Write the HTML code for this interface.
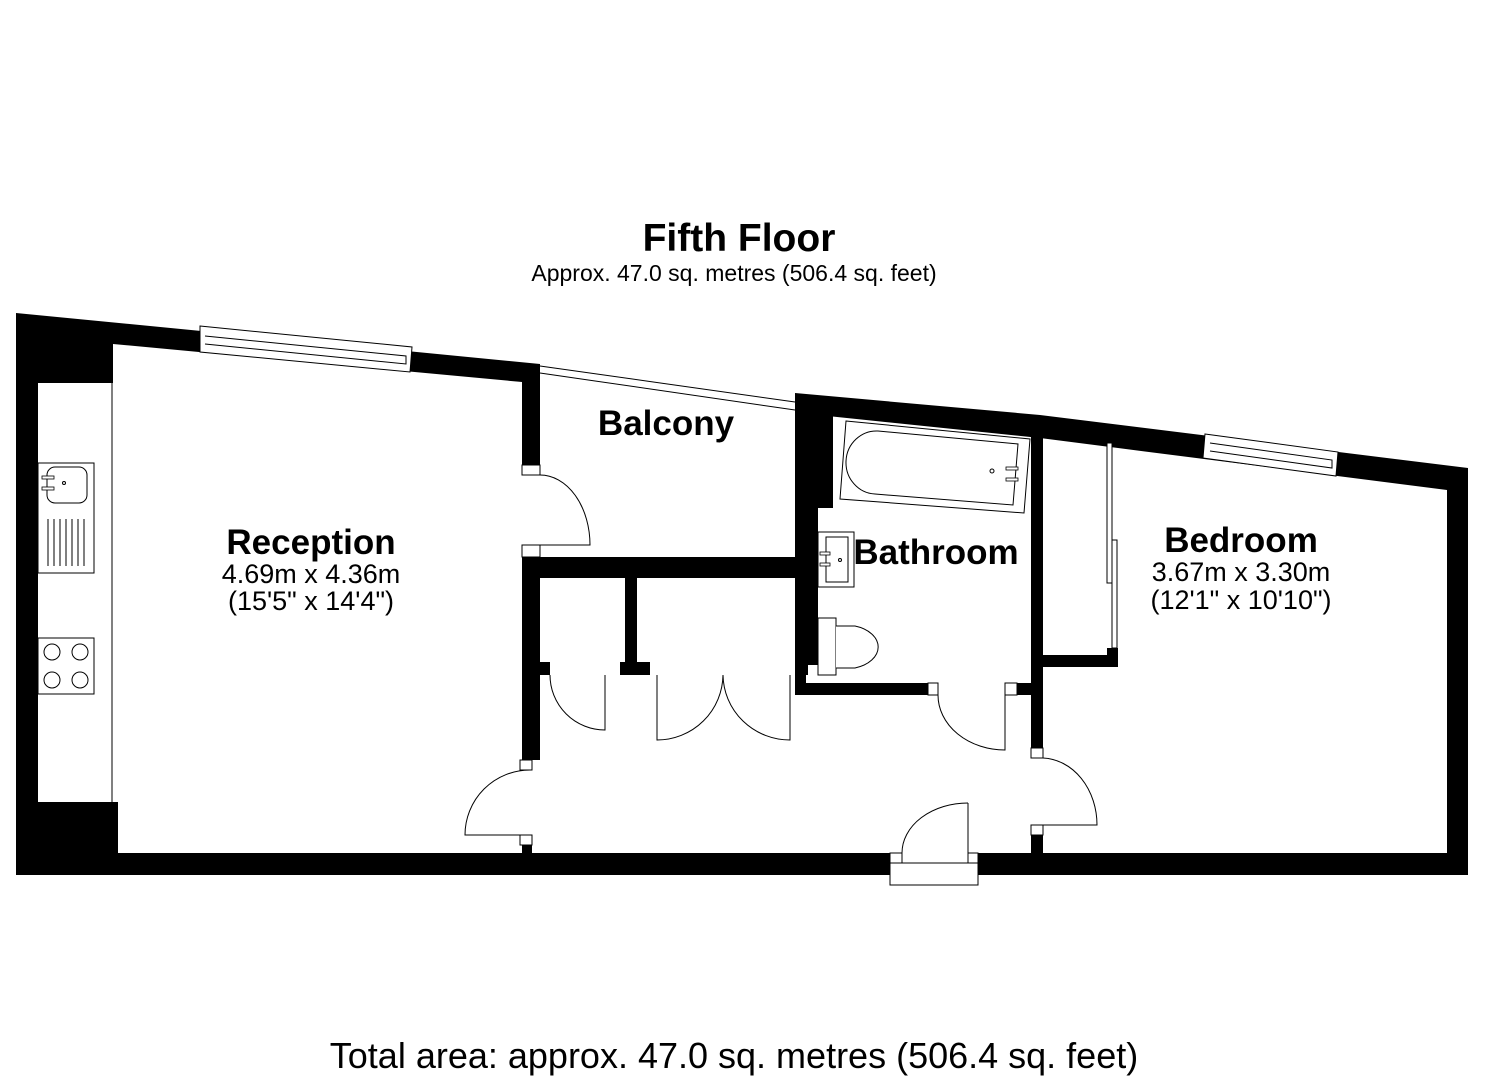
<!DOCTYPE html>
<html><head><meta charset="utf-8"><style>
html,body{margin:0;padding:0;background:#fff}
svg{display:block}
text{font-family:"Liberation Sans",Arial,sans-serif;fill:#000}
.b{font-weight:bold}
.t{fill:none;stroke:#000;stroke-width:1}
.w{fill:#fff;stroke:#000;stroke-width:1}
</style></head><body>
<svg width="1485" height="1080" viewBox="0 0 1485 1080" xmlns="http://www.w3.org/2000/svg">
<rect width="1485" height="1080" fill="#fff"/>
<text x="739" y="251" text-anchor="middle" class="b" font-size="39">Fifth Floor</text>
<text x="734" y="281" text-anchor="middle" font-size="23">Approx. 47.0 sq. metres (506.4 sq. feet)</text>
<text x="734" y="1068" text-anchor="middle" font-size="36">Total area: approx. 47.0 sq. metres (506.4 sq. feet)</text>

<polygon points="16,313 540,364 540,465 522,465 522,382 113,344 113,383 38,383 38,802 118,802 118,853 16,853" fill="#000"/>
<rect x="16" y="853" width="874" height="22" fill="#000"/>
<rect x="978" y="853" width="490" height="22" fill="#000"/>
<polygon points="795,393 1040,415 1468,468 1468,875 1447,875 1447,490 1118,448 1040,438 818,415 818,665 806,665 806,695 795,695" fill="#000"/>
<rect x="818" y="415" width="15" height="93" fill="#000"/>
<rect x="1031" y="430" width="12" height="318" fill="#000"/>
<rect x="1031" y="835" width="12" height="20" fill="#000"/>
<rect class="w" x="1031" y="748" width="12" height="10"/>
<rect class="w" x="1031" y="825" width="12" height="10"/>
<rect x="1043" y="655" width="75" height="12" fill="#000"/>
<rect x="1107" y="648" width="11" height="19" fill="#000"/>
<rect class="w" x="1107" y="443" width="5" height="140"/>
<rect class="w" x="1112" y="540" width="5" height="108"/>
<rect x="806" y="683" width="122" height="12" fill="#000"/>
<rect class="w" x="928" y="683" width="10" height="12"/>
<rect class="w" x="1005" y="683" width="12" height="12"/>
<rect x="1017" y="683" width="14" height="12" fill="#000"/>
<rect x="522" y="557" width="296" height="21" fill="#000"/>
<rect x="522" y="557" width="18" height="203" fill="#000"/>
<rect x="522" y="845" width="10" height="8" fill="#000"/>
<rect class="w" x="520" y="760" width="12" height="10"/>
<rect class="w" x="520" y="835" width="12" height="10"/>
<rect x="540" y="662" width="10" height="13" fill="#000"/>
<rect x="625" y="578" width="12" height="87" fill="#000"/>
<rect x="620" y="662" width="30" height="13" fill="#000"/>
<rect x="795" y="662" width="13" height="13" fill="#000"/>
<rect class="w" x="522" y="465" width="18" height="10"/>
<rect class="w" x="522" y="545" width="18" height="12"/>
<polygon class="w" points="200,326 412,347 410,372 200,352"/>
<polyline class="t" points="205,336 406,356 406,364 205,344"/>
<polygon class="w" points="1205,434 1338,452 1336,476 1203,458"/>
<polyline class="t" points="1210,443 1332,460 1332,468 1210,451"/>
<line class="t" x1="540" y1="366" x2="795" y2="402"/>
<line class="t" x1="540" y1="373" x2="795" y2="410"/>
<rect class="w" x="890" y="853" width="12" height="10"/>
<rect class="w" x="968" y="853" width="10" height="10"/>
<rect class="w" x="890" y="863" width="88" height="22"/>
<line class="t" x1="968" y1="803" x2="968" y2="853"/>
<path class="t" d="M968,803 A66,50 0 0 0 902,853"/>
<path class="t" d="M540,475 A50,70 0 0 1 590,545 L540,545"/>
<path class="t" d="M530,770 A65,65 0 0 0 465,835 L530,835"/>
<path class="t" d="M550,675 A55,55 0 0 0 605,730 L605,675"/>
<path class="t" d="M723,675 A66,66 0 0 1 657,740 L657,675"/>
<path class="t" d="M723,675 A67,66 0 0 0 790,740 L790,675"/>
<path class="t" d="M938,695 A67,55 0 0 0 1005,750 L1005,695"/>
<path class="t" d="M1043,758 A56,67 0 0 1 1097,825 L1043,825"/>
<line class="t" x1="112" y1="383" x2="112" y2="802"/>
<rect class="w" x="38" y="463" width="56" height="110"/>
<rect class="t" x="47" y="467" width="40" height="36" rx="8"/>
<circle class="t" cx="64" cy="483" r="1.5"/>
<rect x="42" y="476" width="12" height="3" fill="#fff" stroke="#000" stroke-width="0.8"/>
<rect x="42" y="487" width="12" height="3" fill="#fff" stroke="#000" stroke-width="0.8"/>
<g class="t"><line x1="48" y1="519" x2="48" y2="566"/><line x1="54" y1="519" x2="54" y2="566"/><line x1="60" y1="519" x2="60" y2="566"/><line x1="66" y1="519" x2="66" y2="566"/><line x1="72" y1="519" x2="72" y2="566"/><line x1="78" y1="519" x2="78" y2="566"/><line x1="84" y1="519" x2="84" y2="566"/></g>
<rect class="w" x="38" y="638" width="56" height="56"/>
<circle class="t" cx="52" cy="652" r="8"/><circle class="t" cx="80" cy="652" r="8"/>
<circle class="t" cx="52" cy="680" r="8"/><circle class="t" cx="80" cy="680" r="8"/>
<polygon class="w" points="846,421 1030,439 1024,513 840,499"/>
<path class="t" d="M878,431 L1018,444 L1013,505 L875,494 A30,31 0 0 1 878,431 Z"/>
<circle class="t" cx="992" cy="471" r="2"/>
<rect x="1006" y="467" width="12" height="3" fill="#fff" stroke="#000" stroke-width="0.8"/>
<rect x="1006" y="478" width="12" height="3" fill="#fff" stroke="#000" stroke-width="0.8"/>
<rect class="w" x="818" y="532" width="36" height="55"/>
<rect class="t" x="826" y="537" width="22" height="45"/>
<circle class="t" cx="840" cy="560" r="1.5"/>
<rect x="820" y="552" width="10" height="3" fill="#fff" stroke="#000" stroke-width="0.8"/>
<rect x="820" y="563" width="10" height="3" fill="#fff" stroke="#000" stroke-width="0.8"/>
<rect class="w" x="818" y="618" width="18" height="57"/>
<path class="w" d="M836,626 L855,626 A33,22 0 0 1 855,668 L836,668"/>
<text x="311" y="554" text-anchor="middle" class="b" font-size="35">Reception</text>
<text x="311" y="583" text-anchor="middle" font-size="27">4.69m x 4.36m</text>
<text x="311" y="610" text-anchor="middle" font-size="27">(15'5" x 14'4")</text>
<text x="666" y="435" text-anchor="middle" class="b" font-size="35">Balcony</text>
<text x="936" y="564" text-anchor="middle" class="b" font-size="35">Bathroom</text>
<text x="1241" y="552" text-anchor="middle" class="b" font-size="35">Bedroom</text>
<text x="1241" y="581" text-anchor="middle" font-size="27">3.67m x 3.30m</text>
<text x="1241" y="609" text-anchor="middle" font-size="27">(12'1" x 10'10")</text>
</svg>
</body></html>
